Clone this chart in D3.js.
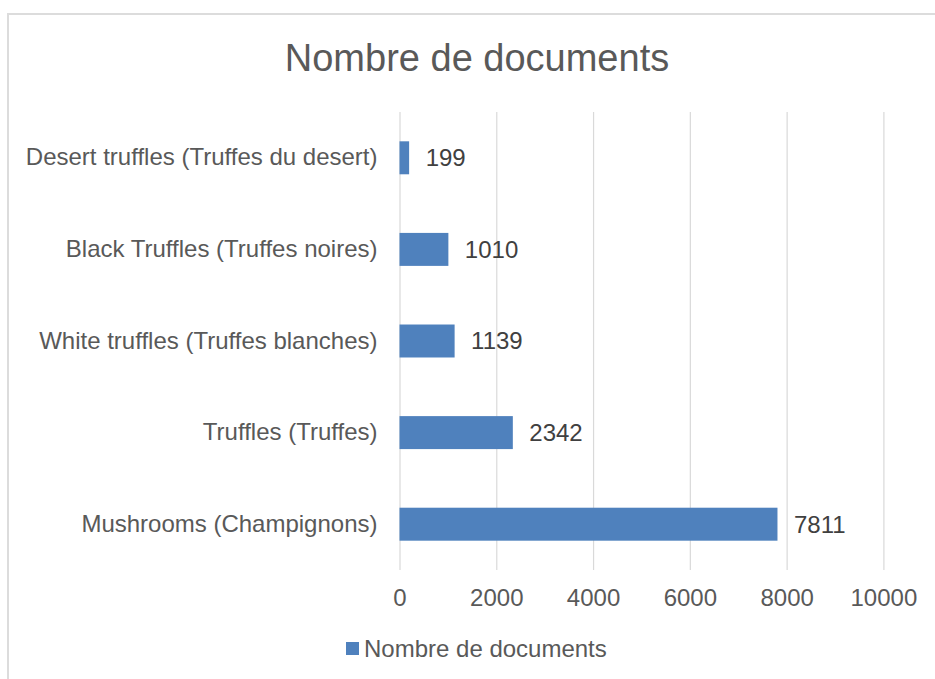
<!DOCTYPE html>
<html>
<head>
<meta charset="utf-8">
<script src="https://cdn.jsdelivr.net/npm/d3@7"></script>
<style>
  body { margin: 0; background: #fff; }
  text { font-family: "Liberation Sans", Arial, Helvetica, sans-serif; }
</style>
</head>
<body>
<svg id="chart" width="935" height="679"></svg>
<script>
// data, top to bottom as shown
const categories = [
  "Desert truffles (Truffes du desert)",
  "Black Truffles (Truffes noires)",
  "White truffles (Truffes blanches)",
  "Truffles (Truffes)",
  "Mushrooms (Champignons)"
]
const documents = [199, 1010, 1139, 2342, 7811]
const xTicks = [0, 2000, 4000, 6000, 8000, 10000]
const chartTitle = "Nombre de documents"
const seriesName = "Nombre de documents"

const rows = categories.map((c, i) => ({ cat: c, value: documents[i] }))

const svg = d3.select('#chart')
const barColor = '#4f81bd'
const textColor = '#595959'
const fontSize = '24px'

// chart border (runs off the right / bottom edge)
svg.append('rect')
  .attr('x', 8).attr('y', 14)
  .attr('width', 1000).attr('height', 1000)
  .attr('fill', 'none')
  .attr('stroke', '#dcdcdc')
  .attr('stroke-width', 2)

const x = d3.scaleLinear()
  .domain([0, 10000])
  .range([399.5, 883.4])

const y = d3.scaleBand()
  .domain(categories)
  .range([112, 570])
  .paddingInner(0.64)
  .paddingOuter(0.32)

// gridlines
svg.append('g')
  .attr('transform', 'translate(0,570)')
  .call(d3.axisBottom(x).tickValues(xTicks).tickSize(-458).tickFormat(''))
  .call(g => g.select('.domain').remove())
  .call(g => g.selectAll('.tick line').attr('stroke', '#d9d9d9').attr('stroke-width', 1.2))

// tick labels
svg.append('g')
  .attr('transform', 'translate(0,570)')
  .call(d3.axisBottom(x).tickValues(xTicks).tickSize(0).tickPadding(19).tickFormat(d3.format('d')))
  .call(g => g.select('.domain').remove())
  .call(g => g.selectAll('.tick text')
    .attr('fill', textColor)
    .style('font-size', fontSize)
    .style('font-family', '"Liberation Sans", Arial, Helvetica, sans-serif'))

// category labels
svg.append('g')
  .attr('transform', 'translate(399.5,0)')
  .call(d3.axisLeft(y).tickSize(0).tickPadding(22))
  .call(g => g.select('.domain').remove())
  .call(g => g.selectAll('.tick text')
    .attr('fill', textColor)
    .style('font-size', fontSize)
    .style('font-family', '"Liberation Sans", Arial, Helvetica, sans-serif'))

// bars
svg.append('g').selectAll('rect')
  .data(rows)
  .join('rect')
  .attr('x', x(0))
  .attr('y', d => y(d.cat))
  .attr('width', d => x(d.value) - x(0))
  .attr('height', y.bandwidth())
  .attr('fill', barColor)

// data labels
svg.append('g').selectAll('text')
  .data(rows)
  .join('text')
  .attr('x', d => x(d.value) + 16.5)
  .attr('y', d => y(d.cat) + y.bandwidth() / 2)
  .attr('dy', '0.35em')
  .attr('fill', '#404040')
  .style('font-size', fontSize)
  .text(d => d.value)

// title
svg.append('text')
  .attr('x', 477)
  .attr('y', 71)
  .attr('text-anchor', 'middle')
  .attr('fill', textColor)
  .style('font-size', '38px')
  .text(chartTitle)

// legend
const legend = svg.append('g').attr('transform', 'translate(346,642)')
legend.append('rect')
  .attr('width', 13).attr('height', 13)
  .attr('fill', barColor)
legend.append('text')
  .attr('x', 18)
  .attr('y', 14.5)
  .attr('fill', textColor)
  .style('font-size', fontSize)
  .text(seriesName)
</script>
</body>
</html>
